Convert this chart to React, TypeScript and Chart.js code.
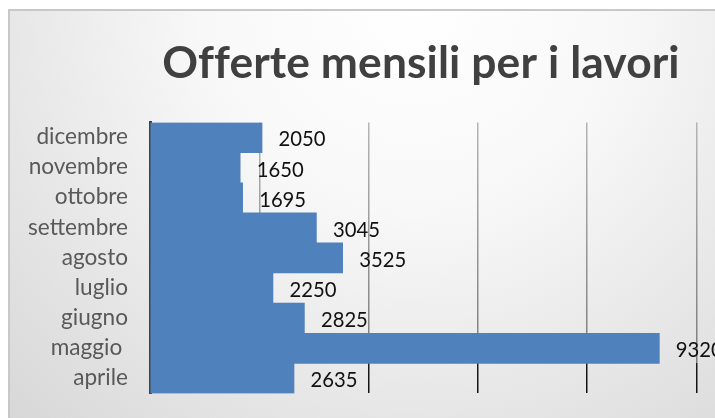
import React, { useEffect, useRef } from 'react';
import { Chart, registerables } from 'chart.js';

Chart.register(...registerables);

// ---- data ----
const chartTitle = 'Offerte mensili per i lavori';
const categories = ['dicembre', 'novembre', 'ottobre', 'settembre', 'agosto', 'luglio', 'giugno', 'maggio ', 'aprile'];
const values = [2050, 1650, 1695, 3045, 3525, 2250, 2825, 9320, 2635];
const axisMin = 0;
const axisMax = 10000;
const axisStep = 2000;

const FAMILY = 'Lato, "Open Sans", sans-serif';
const W = 827;
const H = 420;

function fitSize(text: string, weight: string, target: number, spacing = '0px') {
  const c = document.createElement('canvas').getContext('2d')! as any;
  c.font = `${weight} 100px ${FAMILY}`;
  c.letterSpacing = spacing;
  return (100 * target) / c.measureText(text).width;
}

export default function App() {
  const ref = useRef<HTMLCanvasElement | null>(null);

  useEffect(() => {
    const canvas = ref.current!;
    const titleSize = fitSize(chartTitle, 'bold', 516, '0.1px');
    const catSize = fitSize('settembre', 'normal', 100);
    const valSize = fitSize('2050', 'normal', 47);

    const m = document.createElement('canvas').getContext('2d')!;
    m.font = `normal ${catSize}px ${FAMILY}`;
    m.textBaseline = 'middle';
    const xBelowMiddle = m.measureText('x').actualBoundingBoxDescent;
    m.textBaseline = 'alphabetic';
    m.font = `normal ${valSize}px ${FAMILY}`;
    const digitAsc = m.measureText('0').actualBoundingBoxAscent;

    let gridGrad: CanvasGradient | null = null;

    const background = {
      id: 'bgFrame',
      beforeDraw(chart: any) {
        const ctx = chart.ctx as CanvasRenderingContext2D;
        ctx.save();
        const g = ctx.createRadialGradient(405, -9, 0, 405, -9, 600);
        g.addColorStop(0, '#ffffff');
        g.addColorStop(0.35, '#f8f8f8');
        g.addColorStop(1, '#d6d6d6');
        ctx.fillStyle = g;
        ctx.fillRect(0, 0, chart.width, chart.height);
        ctx.strokeStyle = '#c8c8c8';
        ctx.lineWidth = 2;
        ctx.strokeRect(1, 1, chart.width - 2, chart.height - 2);
        ctx.restore();
      },
    };

    const titleDraw = {
      id: 'titleDraw',
      afterDraw(chart: any) {
        const ctx = chart.ctx as any;
        ctx.save();
        ctx.font = `bold ${titleSize}px ${FAMILY}`;
        ctx.letterSpacing = '0.1px';
        ctx.fillStyle = '#404040';
        ctx.textAlign = 'center';
        ctx.textBaseline = 'alphabetic';
        ctx.fillText(chartTitle, 413, 69.3);
        ctx.restore();
      },
    };

    const valueLabels = {
      id: 'valueLabels',
      afterDatasetsDraw(chart: any) {
        const ctx = chart.ctx as CanvasRenderingContext2D;
        const meta = chart.getDatasetMeta(0);
        ctx.save();
        ctx.font = `normal ${valSize}px ${FAMILY}`;
        ctx.fillStyle = '#111111';
        ctx.textAlign = 'left';
        ctx.textBaseline = 'alphabetic';
        meta.data.forEach((bar: any, i: number) => {
          ctx.fillText(String(values[i]), bar.x + 16.5, bar.y + 1.4 + digitAsc / 2);
        });
        ctx.restore();
      },
    };

    const chart = new Chart(canvas, {
      type: 'bar',
      data: {
        labels: categories,
        datasets: [
          {
            data: values,
            backgroundColor: '#4f81bd',
            borderWidth: 0,
            barPercentage: 1,
            categoryPercentage: 1,
          },
        ],
      },
      options: {
        indexAxis: 'y',
        animation: false,
        responsive: false,
        devicePixelRatio: 1,
        layout: { padding: { top: 113.5, bottom: 34, left: 0, right: W - 688.5 } },
        plugins: {
          legend: { display: false },
          title: { display: false },
          tooltip: { enabled: false },
        },
        scales: {
          x: {
            min: axisMin,
            max: axisMax,
            ticks: { display: false, stepSize: axisStep },
            border: { display: false },
            grid: {
              drawTicks: false,
              lineWidth: 1.5,
              color: (c: any) => {
                const area = c.chart.chartArea;
                if (!area) return '#a0a0a0';
                if (!gridGrad) {
                  const g = c.chart.ctx.createLinearGradient(0, area.top, 0, area.bottom);
                  g.addColorStop(0, '#b4b4b4');
                  g.addColorStop(0.887, '#7c7c7c');
                  g.addColorStop(0.889, '#1c1c1c');
                  g.addColorStop(1, '#111111');
                  gridGrad = g;
                }
                return gridGrad;
              },
            },
            afterFit: (s: any) => {
              s.height = 0;
            },
          },
          y: {
            ticks: {
              color: '#595959',
              font: { family: FAMILY, size: catSize },
              padding: 22,
              labelOffset: 6.7 - xBelowMiddle,
              autoSkip: false,
            },
            grid: { display: true, color: 'rgba(0,0,0,0)', drawTicks: false },
            border: { display: true, color: '#404040', width: 3 },
            afterFit: (s: any) => {
              s.width = 142;
            },
          },
        },
      },
      plugins: [background, valueLabels, titleDraw],
    });

    return () => chart.destroy();
  }, []);

  return (
    <div
      style={{
        position: 'fixed',
        left: 0,
        top: 0,
        width: 715,
        height: 418,
        overflow: 'hidden',
        background: '#ffffff',
      }}
    >
      <canvas
        ref={ref}
        width={W}
        height={H}
        style={{ position: 'absolute', left: 8, top: 9, width: W, height: H, display: 'block' }}
      />
    </div>
  );
}
